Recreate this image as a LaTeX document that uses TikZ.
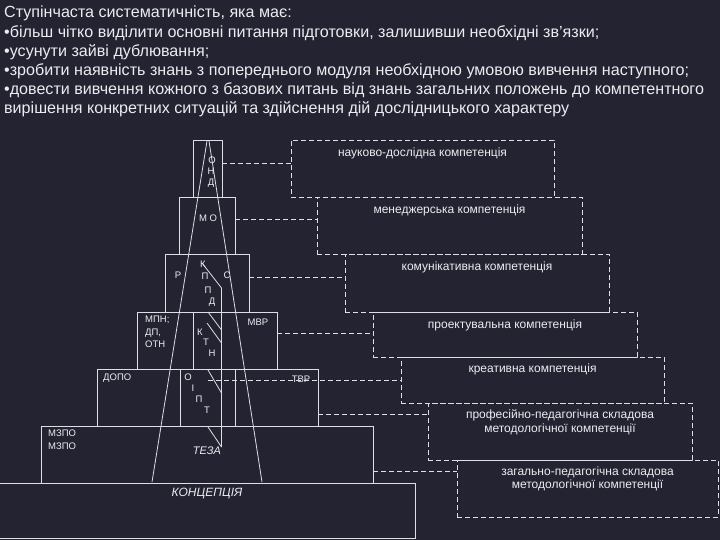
\documentclass[tikz,border=0pt]{standalone}
\usepackage{fontspec}
\setmainfont{Liberation Sans}
\usetikzlibrary{positioning}
\definecolor{bgnavy}{RGB}{36,35,50}
\definecolor{linegrey}{RGB}{222,222,228}
\definecolor{txtgrey}{RGB}{236,236,240}

\begin{document}
\begin{tikzpicture}[x=1pt, y=-1pt,
    lvl/.style={draw=linegrey, line width=0.9pt, inner sep=0pt},
    comp/.style={draw=linegrey, line width=0.9pt, dash pattern=on 5pt off 3pt, inner sep=0pt},
    conn/.style={draw=linegrey, line width=0.9pt, dash pattern=on 5pt off 3pt},
    thread/.style={draw=linegrey, line width=0.8pt},
    ctext/.style={text=txtgrey, font=\fontsize{12}{13.5}\selectfont, align=center, inner sep=0pt},
    ltr/.style={text=txtgrey, font=\fontsize{9.5}{12.5}\selectfont, inner sep=0pt}]
    \fill[bgnavy] (0,0) rectangle (720,540);
    \useasboundingbox (0,0) rectangle (720,540);

    \node[anchor=north west, align=left, inner sep=0pt, text=txtgrey,
          font=\fontsize{16.1}{19.2}\selectfont] (intro) at (4,6)
        {Ступінчаста систематичність, яка має:\\
         •більш чітко виділити основні питання підготовки, залишивши необхідні зв’язки;\\
         •усунути зайві дублювання;\\
         •зробити наявність знань з попереднього модуля необхідною умовою вивчення наступного;\\
         •довести вивчення кожного з базових питань від знань загальних положень до компетентного\\
         вирішення конкретних ситуацій та здійснення дій дослідницького характеру};

    % pyramid
    \node[lvl, minimum width=29, minimum height=57] (lev1) at (207.5,168.5) {};
    \node[lvl, minimum width=56, minimum height=57] (lev2) at (207,225.5) {};
    \node[lvl, minimum width=84, minimum height=58] (lev3) at (207,283) {};
    \node[lvl, minimum width=140, minimum height=57] (lev4) at (207,340.5) {};
    \node[lvl, minimum width=221, minimum height=57] (lev5) at (207.5,397.5) {};
    \node[lvl, minimum width=332, minimum height=57] (lev6) at (207,454.5) {};
    \node[lvl, minimum width=416, minimum height=55] (lev7) at (207,510.5) {};

    \draw[thread] (193,312) -- (193,369);
    \draw[thread] (180,369) -- (180,426);
    \draw[thread] (235,369) -- (235,426);
    \draw[thread] (207,141) -- (152,482);
    \draw[thread] (209,141) -- (262,482);
    \draw[thread] (202,263) -- (221.5,288) -- (221.5,447);
    \draw[thread] (208,312) -- (221.5,330);
    \draw[thread] (207,323) -- (221.5,343);
    \draw[thread] (208,370) -- (221.5,393);
    \draw[thread] (208,427) -- (221.5,447);

    \node[ltr] (ond1) at (212,160) {О};
    \node[ltr] (ond2) at (211,171) {Н};
    \node[ltr] (ond3) at (211,183) {Д};
    \node[ltr] (mo) at (208,218) {М О};
    \node[ltr] (r) at (178,275) {Р};
    \node[ltr] (s) at (227,275) {С};
    \node[ltr] (kppd1) at (203,264) {К};
    \node[ltr] (kppd2) at (205,276) {П};
    \node[ltr] (kppd3) at (208,290) {П};
    \node[ltr] (kppd4) at (212,302) {Д};
    \node[ltr, anchor=north west, align=left] (mpn) at (145,316) {МПН;\\ДП,\\ОТН};
    \node[ltr] (mvr) at (258,322) {МВР};
    \node[ltr] (ktn1) at (200,332) {К};
    \node[ltr] (ktn2) at (206,342) {Т};
    \node[ltr] (ktn3) at (212,353) {Н};
    \node[ltr, anchor=west] (dopo) at (103,378) {ДОПО};
    \node[ltr] (oipt1) at (188,377) {О};
    \node[ltr] (oipt2) at (193,388) {І};
    \node[ltr] (oipt3) at (199,399) {П};
    \node[ltr] (oipt4) at (207,410) {Т};
    \node[ltr] (tvr) at (301,379) {ТВР};
    \node[ltr, anchor=north west, align=left] (mzpo) at (48,430) {МЗПО\\МЗПО};
    \node[text=txtgrey, font=\fontsize{11}{13}\selectfont\itshape, inner sep=0pt] (teza) at (207,451) {ТЕЗА};
    \node[text=txtgrey, font=\fontsize{12}{14}\selectfont\itshape, inner sep=0pt] (konc) at (207,494) {КОНЦЕПЦІЯ};

    % competences
    \node[comp, minimum width=263, minimum height=57] (comp1) at (422.5,168.5) {};
    \node[comp, minimum width=265, minimum height=57] (comp2) at (449.5,225.5) {};
    \node[comp, minimum width=264, minimum height=58] (comp3) at (477,283) {};
    \node[comp, minimum width=264, minimum height=45] (comp4) at (505,334.5) {};
    \node[comp, minimum width=263, minimum height=46] (comp5) at (532.5,380) {};
    \node[comp, minimum width=264, minimum height=57] (comp6) at (560,431.5) {};
    \node[comp, minimum width=261, minimum height=57] (comp7) at (587.5,488.5) {};

    \node[ctext, anchor=north] (t1) at ([yshift=-8]comp1.north) {науково-дослідна компетенція};
    \node[ctext, anchor=north] (t2) at ([yshift=-8]comp2.north) {менеджерська компетенція};
    \node[ctext, anchor=north] (t3) at ([yshift=-8]comp3.north) {комунікативна компетенція};
    \node[ctext, anchor=north] (t4) at ([yshift=-8]comp4.north) {проектувальна компетенція};
    \node[ctext, anchor=north] (t5) at ([yshift=-7]comp5.north) {креативна компетенція};
    \node[ctext, anchor=north] (t6) at ([yshift=-7]comp6.north) {професійно-педагогічна складова\\методологічної компетенції};
    \node[ctext, anchor=north] (t7) at ([yshift=-7]comp7.north) {загально-педагогічна складова\\методологічної компетенції};

    \coordinate (tvrstart) at (208,380);
    \draw[conn] (lev1.east |- 0,163) -- (comp1.west |- 0,163);
    \draw[conn] (lev2.east |- 0,219) -- (comp2.west |- 0,219);
    \draw[conn] (lev3.east |- 0,277) -- (comp3.west |- 0,277);
    \draw[conn] (lev4.east |- 0,333) -- (comp4.west |- 0,333);
    \draw[conn] (tvrstart) -- (comp5.west |- tvrstart);
    \draw[conn] (lev5.east |- 0,414) -- (comp6.west |- 0,414);
    \draw[conn] (lev6.east |- 0,471) -- (comp7.west |- 0,471);
\end{tikzpicture}
\end{document}
